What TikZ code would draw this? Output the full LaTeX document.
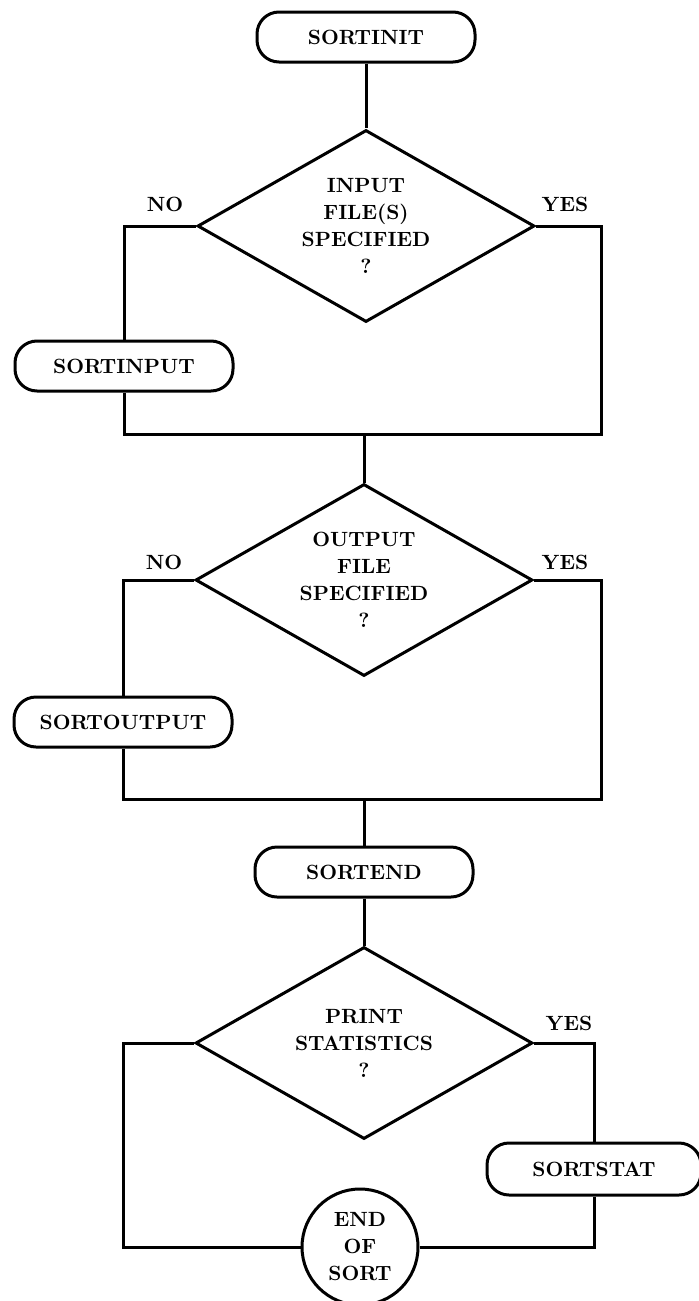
\documentclass[tikz,border=0pt]{standalone}
\usetikzlibrary{shapes.geometric}
\begin{document}
\begin{tikzpicture}[x=0.5pt,y=-0.5pt, line width=1.5pt,
  every node/.style={font=\fontsize{10.3}{13.5}\selectfont\bfseries},
  term/.style={draw, rectangle, rounded corners=11pt, minimum width=109pt, minimum height=25pt, inner sep=0pt},
  decision/.style={draw, diamond, aspect=1.75, inner sep=0pt, minimum width=168.5pt, minimum height=96pt, align=center},
  endc/.style={draw, circle, minimum size=58pt, inner sep=0pt, align=center},
  lbl/.style={inner sep=0pt}]
\useasboundingbox (0,0) rectangle (699,1301);

\node[term] (sortinit) at (366,37) {SORTINIT};
\node[decision] (d1) at (366,226) {INPUT\\FILE(S)\\SPECIFIED\\?};
\node[lbl] (no1) at (165,204) {NO};
\node[lbl] (yes1) at (565,204) {YES};
\node[term] (sortinput) at (124,366) {SORTINPUT};

\node[decision] (d2) at (364,580) {OUTPUT\\FILE\\SPECIFIED\\?};
\node[lbl] (no2) at (164,562) {NO};
\node[lbl] (yes2) at (565,562) {YES};
\node[term] (sortoutput) at (123,722) {SORTOUTPUT};

\node[term] (sortend) at (364,872) {SORTEND};
\node[decision] (d3) at (364,1043) {PRINT\\STATISTICS\\?};
\node[lbl] (yes3) at (569,1023) {YES};
\node[term, minimum width=107pt, minimum height=26pt] (sortstat) at (594,1169) {SORTSTAT};
\node[endc] (eos) at (360,1247) {END\\OF\\SORT};

\coordinate (r1) at (601,434);
\coordinate (l1) at (124,434);
\coordinate (m1) at (364,434);
\coordinate (r2) at (601,799);
\coordinate (l2) at (123,799);
\coordinate (m2) at (364,799);
\coordinate (l3) at (123,1247);

\draw (sortinit) -- (d1);
\draw (d1.west) -| (sortinput.north);
\draw (d1.east) -| (r1) -- (l1) -- (sortinput.south);
\draw (m1) -- (d2.north);

\draw (d2.west) -| (sortoutput.north);
\draw (d2.east) -| (r2) -- (l2) -- (sortoutput.south);
\draw (m2) -- (sortend.north);

\draw (sortend) -- (d3);
\draw (d3.west) -| (l3) -- (eos.west);
\draw (d3.east) -| (sortstat.north);
\draw (sortstat.south) |- (eos.east);
\end{tikzpicture}
\end{document}
